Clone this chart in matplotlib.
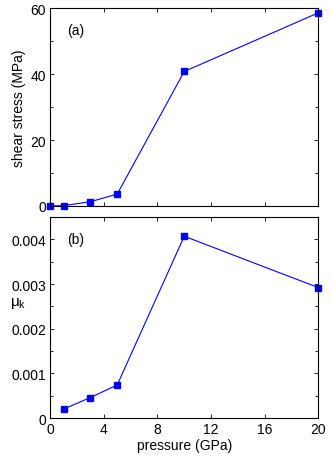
import matplotlib
matplotlib.use("Agg")
import matplotlib.pyplot as plt
from matplotlib.ticker import MultipleLocator

plt.rcParams['font.family'] = ['Liberation Sans', 'DejaVu Sans']
plt.rcParams['font.size'] = 10

# data
pressure = [0, 1, 3, 5, 10, 20]
shear_stress = [0.0, 0.1, 1.3, 3.6, 40.8, 58.6]
pressure_mu = [1, 3, 5, 10, 20]
mu_k = [0.00020, 0.00046, 0.00074, 0.00407, 0.00292]

fig = plt.figure(figsize=(3.32, 4.60), dpi=100)
ax1 = fig.add_axes([0.151, 0.550, 0.808, 0.430])
ax2 = fig.add_axes([0.151, 0.089, 0.808, 0.437])

for ax in (ax1, ax2):
    ax.tick_params(which='both', direction='in', top=True, right=True,
                   length=3, width=0.6, labelsize=10, pad=3)
    ax.tick_params(which='minor', length=2.5)
    for s in ax.spines.values():
        s.set_linewidth(0.8)
    ax.set_xlim(0, 20)
    ax.xaxis.set_major_locator(MultipleLocator(4))

ax1.plot(pressure, shear_stress, color='b', lw=0.8, marker='s', ms=3.8,
         clip_on=False)
ax1.set_ylim(0, 60)
ax1.yaxis.set_major_locator(MultipleLocator(20))
ax1.yaxis.set_minor_locator(MultipleLocator(10))
ax1.set_xticklabels([])
ax1.set_ylabel('shear stress (MPa)', labelpad=3)
ax1.text(0.063, 0.89, '(a)', transform=ax1.transAxes, fontsize=10,
         va='center')

ax2.plot(pressure_mu, mu_k, color='b', lw=0.8, marker='s', ms=3.8,
         clip_on=False)
ax2.set_ylim(0, 0.0045)
ax2.yaxis.set_minor_locator(MultipleLocator(0.0005))
ax2.set_yticks([0, 0.001, 0.002, 0.003, 0.004])
ax2.set_yticklabels(['0', '0.001', '0.002', '0.003', '0.004'])
ax2.set_xlabel('pressure (GPa)', labelpad=1)
ax2.text(0.063, 0.89, '(b)', transform=ax2.transAxes, fontsize=10,
         va='center')
fig.text(0.03, 0.335, r'$\mathregular{\mu_k}$', fontsize=11)

fig.savefig('out.png', dpi=100)
